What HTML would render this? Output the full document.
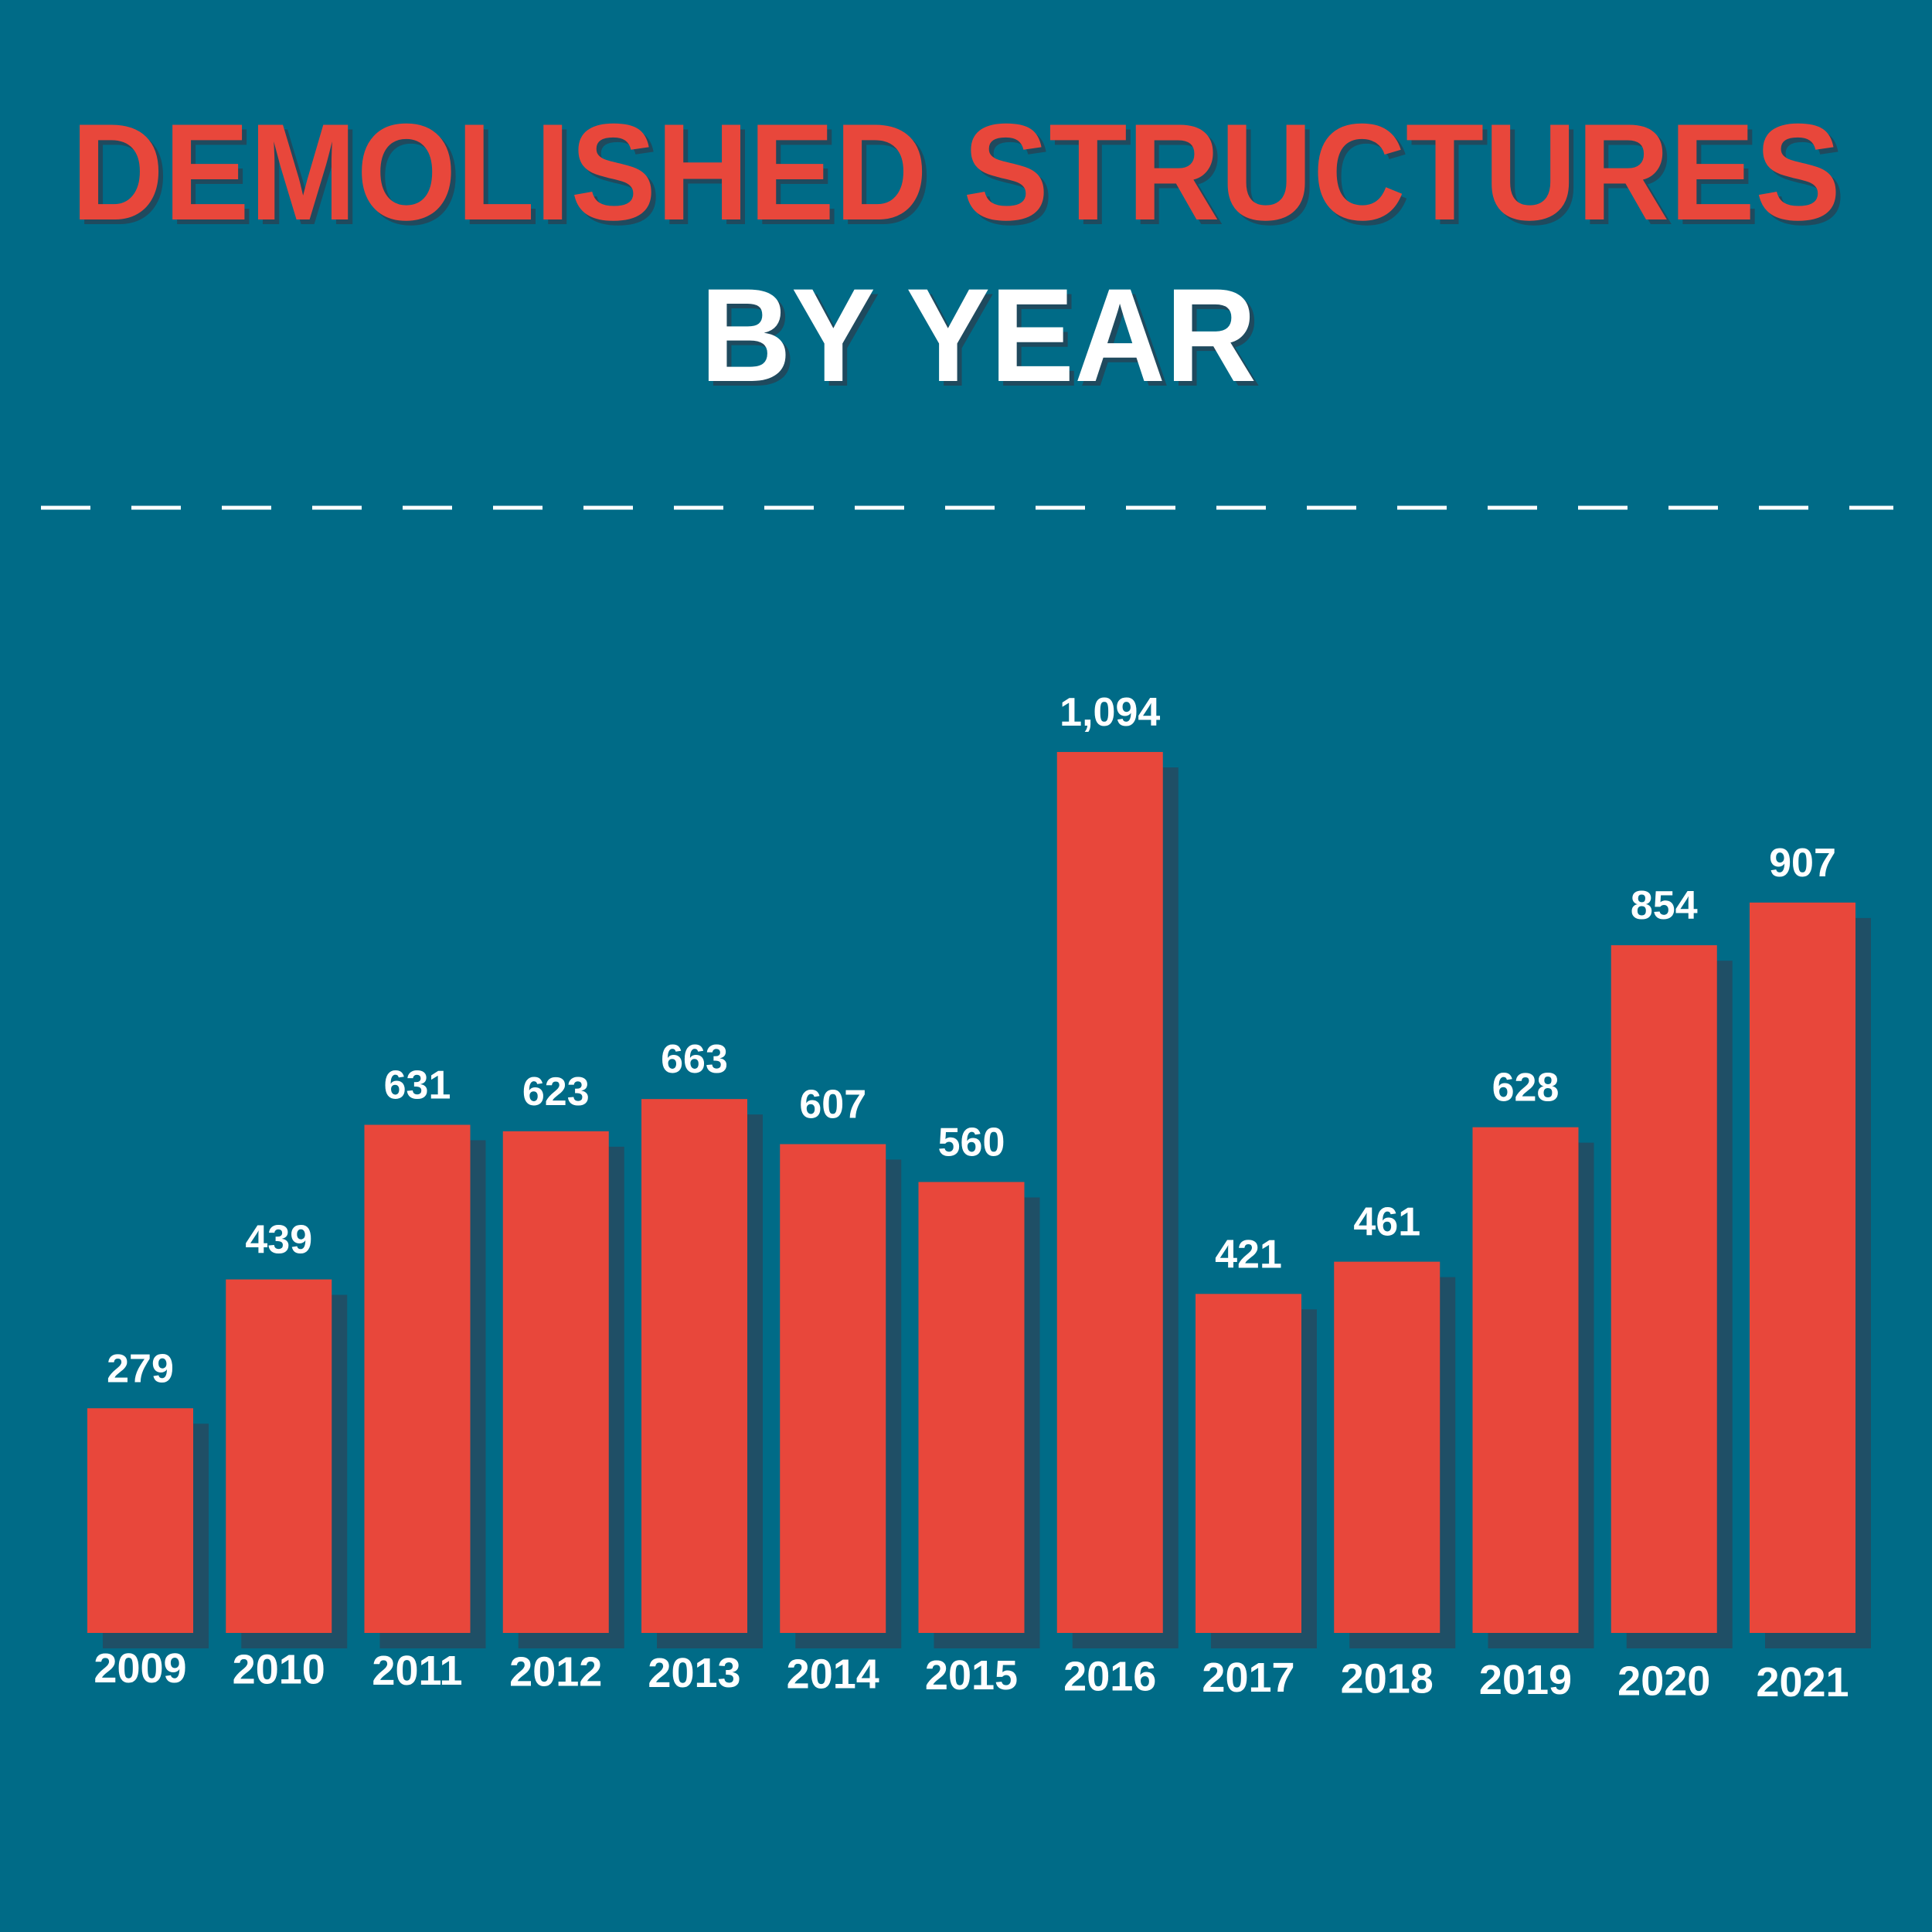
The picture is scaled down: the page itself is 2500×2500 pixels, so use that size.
<!DOCTYPE html>
<html><head><meta charset="utf-8"><style>
html,body{margin:0;padding:0;background:#006b87;}
svg{display:block;}
text{font-family:"Liberation Sans",sans-serif;font-weight:bold;}
</style></head><body>
<svg width="2500" height="2500" viewBox="0 0 2500 2500">
<rect width="2500" height="2500" fill="#006b87"/>
<g>
<text x="98" y="290" font-size="178" fill="#1f4a5e" textLength="2290" lengthAdjust="spacingAndGlyphs">DEMOLISHED STRUCTURES</text>
<text x="92" y="284" font-size="178" fill="#e8473b" textLength="2290" lengthAdjust="spacingAndGlyphs">DEMOLISHED STRUCTURES</text>
<text x="1272" y="499" font-size="172" fill="#1f4a5e" text-anchor="middle" textLength="720" lengthAdjust="spacingAndGlyphs">BY YEAR</text>
<text x="1266" y="493" font-size="172" fill="#ffffff" text-anchor="middle" textLength="720" lengthAdjust="spacingAndGlyphs">BY YEAR</text>
</g>
<line x1="53" y1="657" x2="2450" y2="657" stroke="#ffffff" stroke-width="5" stroke-dasharray="64 53"/>
<g id="bars"></g>
</svg>
<script>
const categories = ["2009","2010","2011","2012","2013","2014","2015","2016","2017","2018","2019","2020","2021"];
const values = [279,439,631,623,663,607,560,1094,421,461,628,854,907];
const valueLabels = ["279","439","631","623","663","607","560","1,094","421","461","628","854","907"];

const baseline = 2113, pxPerUnit = 1.042, x0 = 113, step = 179.25, bw = 137, sh = 20;
function xScale(i){ return x0 + i*step; }
function yScale(v){ return baseline - v*pxPerUnit; }
const NS = "http://www.w3.org/2000/svg";
const g = document.getElementById('bars');
categories.forEach((c,i)=>{
  const x = xScale(i), y = yScale(values[i]);
  const s = document.createElementNS(NS,'rect');
  s.setAttribute('x', x+sh); s.setAttribute('y', y+sh);
  s.setAttribute('width', bw); s.setAttribute('height', baseline - y);
  s.setAttribute('fill', '#1f4f66');
  
  
  g.appendChild(s);
  const r = document.createElementNS(NS,'rect');
  r.setAttribute('x', x); r.setAttribute('y', y);
  r.setAttribute('width', bw); r.setAttribute('height', baseline - y);
  r.setAttribute('fill', '#e8473b');
  
  
  g.appendChild(r);
  const t = document.createElementNS(NS,'text');
  t.setAttribute('x', x + bw/2); t.setAttribute('y', y - 34);
  t.setAttribute('text-anchor','middle'); t.setAttribute('font-size','52');
  t.setAttribute('fill','#ffffff');
  t.textContent = valueLabels[i];
  
  
  g.appendChild(t);
  const yl = document.createElementNS(NS,'text');
  yl.setAttribute('x', x + bw/2); yl.setAttribute('y', 2177 + i*1.5);
  yl.setAttribute('text-anchor','middle'); yl.setAttribute('font-size','54');
  yl.setAttribute('fill','#ffffff');
  yl.textContent = c;
  
  
  g.appendChild(yl);
});
</script>
</body></html>
